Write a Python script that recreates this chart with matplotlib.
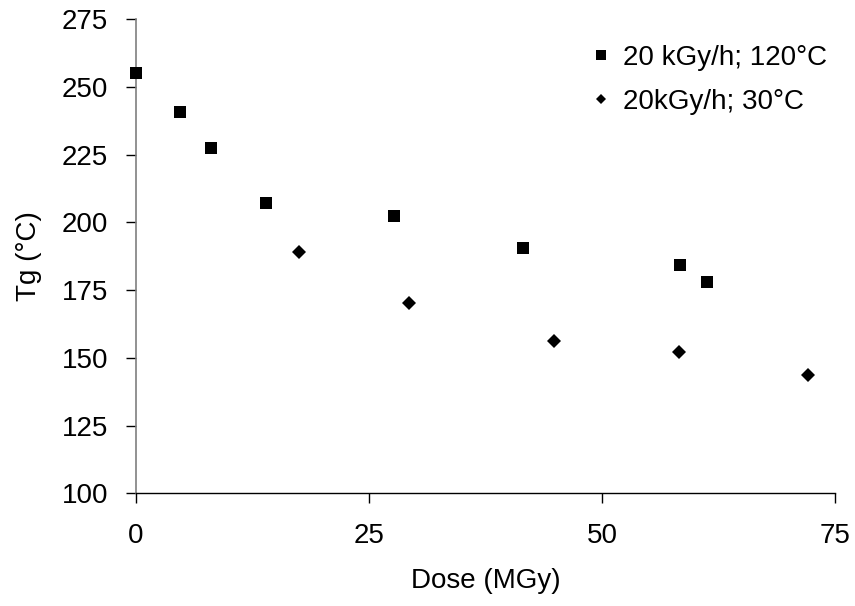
import matplotlib
matplotlib.use("Agg")
import matplotlib.pyplot as plt

# --- Data ---
dose_120 = [0.0, 4.7, 8.0, 13.9, 27.7, 41.5, 58.4, 61.3]
tg_120 = [255.3, 240.7, 227.6, 207.3, 202.5, 190.7, 184.4, 178.1]
dose_30 = [17.5, 29.3, 44.9, 58.3, 72.1]
tg_30 = [189.0, 170.1, 156.2, 152.0, 143.8]
label_120 = "20 kGy/h; 120°C"
label_30 = "20kGy/h; 30°C"
x_ticks = [0, 25, 50, 75]
y_ticks = [100, 125, 150, 175, 200, 225, 250, 275]

plt.rcParams['font.family'] = ['Liberation Sans', 'DejaVu Sans']
FS = 20

fig = plt.figure(figsize=(8.55, 6.06), dpi=100)
ax = fig.add_axes([136 / 855, 1 - 493.3 / 606, (835 - 136) / 855, (493.3 - 19.3) / 606])

ax.plot(dose_120, tg_120, linestyle='none', marker='s', markersize=8.6,
        color='black', markeredgewidth=0, label=label_120, clip_on=False, zorder=3)
ax.plot(dose_30, tg_30, linestyle='none', marker='D', markersize=6.8,
        color='black', markeredgewidth=0, label=label_30, clip_on=False, zorder=3)

ax.set_xlim(0, 75)
ax.set_ylim(100, 275)
ax.set_xticks(x_ticks)
ax.set_yticks(y_ticks)

for side in ('top', 'right'):
    ax.spines[side].set_visible(False)
ax.spines['left'].set_color('#7f7f7f')
ax.spines['left'].set_linewidth(1.2)
ax.spines['bottom'].set_color('black')
ax.spines['bottom'].set_linewidth(1.0)

ax.tick_params(axis='both', direction='out', length=7.2, width=1.0,
               colors='black', labelsize=FS)
ax.tick_params(axis='x', pad=14)
ax.tick_params(axis='y', pad=13)

ax.set_xlabel('Dose (MGy)', fontsize=FS, labelpad=14)
ax.set_ylabel('Tg (°C)', fontsize=FS, labelpad=14)

ax.legend(loc='upper right', bbox_to_anchor=(838 / 855, 1 - 34 / 606),
          bbox_transform=fig.transFigure, frameon=False, fontsize=FS,
          handlelength=0.6, handletextpad=0.5, labelspacing=0.65,
          markerscale=0.8, borderaxespad=0)

fig.savefig('out.png', dpi=100)
